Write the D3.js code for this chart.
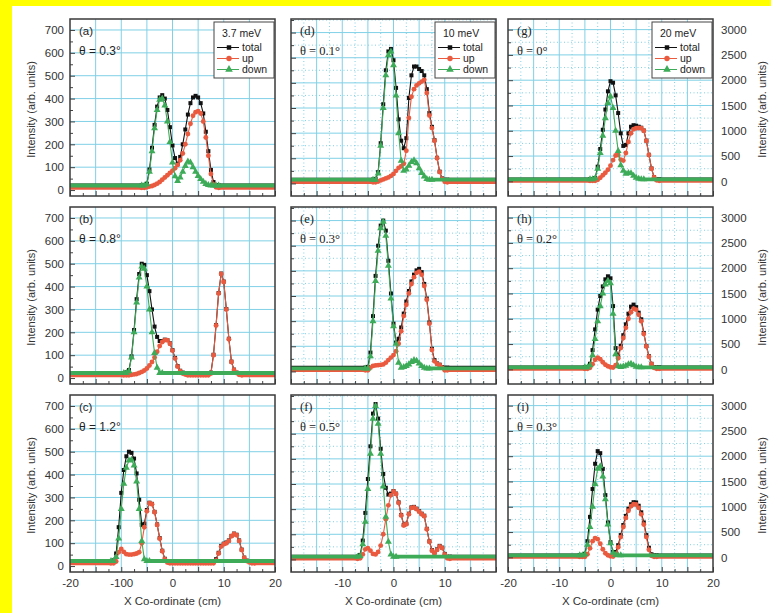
<!DOCTYPE html>
<html>
<head>
<meta charset="utf-8">
<script src="https://cdn.jsdelivr.net/npm/d3@7"></script>
<style>
body { margin: 0; background: #fff; }
svg { display: block; }
</style>
</head>
<body>
<div id="chart"></div>
<script>
// panel labels and axis text
var panelIds = ["a", "b", "c", "d", "e", "f", "g", "h", "i"];
var thetaLabels = ["θ = 0.3°", "θ = 0.8°", "θ = 1.2°", "θ = 0.1°", "θ = 0.3°", "θ = 0.5°", "θ = 0°", "θ = 0.2°", "θ = 0.3°"];
var energyLabels = ["3.7 meV", "10 meV", "20 meV"];
var seriesNames = ["total", "up", "down"];
var xTickValues = [[-20, -10, 0, 10, 20], [-10, 0, 10], [-20, -10, 0, 10, 20]];
var xTickLabels = [["-20", "-100", "0", "10", "20"], ["-10", "0", "10"], ["-20", "-10", "0", "10", "20"]];
var yTicksLeft = [0, 100, 200, 300, 400, 500, 600, 700];
var yTicksMid = [0, 100, 200, 300, 400, 500, 600];
var yTicksRight = [0, 500, 1000, 1500, 2000, 2500, 3000];

// series are sampled every 0.5 cm, starting at the x given in *_start (total, up, down)
var xStep = 0.5;

var a_start = [-6, -6, -6];
var a_total = [20,20,28,90,185,285,365,405,415,400,350,275,195,140,115,145,200,265,330,380,405,412,405,380,335,255,170,88,35,22,20];
var a_up = [10,10,12,15,18,22,28,35,45,55,65,75,85,95,110,130,160,200,245,290,325,340,345,335,300,230,150,70,25,12,10];
var a_down = [20,20,25,80,170,270,350,395,400,370,300,210,120,60,40,55,80,105,125,120,100,80,62,48,36,27,22,20,20,20,20];

var b_start = [-9.5, -9.5, -9.5];
var b_total = [22,25,35,95,210,345,455,500,495,450,380,300,225,180,162,162,168,166,152,122,88,52,32,24,22,22,22,22,22,22,22,22,22,22,24,102,232,372,457,422,302,172,72,37,24,22,22];
var b_up = [12,12,12,14,16,18,22,27,33,42,55,70,90,115,140,158,166,165,150,120,85,50,30,20,15,12,12,12,12,12,12,12,12,12,20,100,230,370,455,420,300,170,70,35,22,14,12];
var b_down = [22,22,30,90,200,330,440,488,478,400,300,200,110,45,22,22];

var c_start = [-12, -12, -12];
var c_total = [22,25,55,170,320,420,480,500,495,470,405,290,180,185,245,277,272,237,182,122,67,32,22,22,22,22,22,22,22,22,22,22,22,22,22,22,22,22,22,22,22,30,58,88,98,103,112,132,142,137,112,72,37,24,22,22,22];
var c_up = [12,12,20,60,75,62,52,50,50,52,55,60,100,170,240,275,270,235,180,120,65,30,15,12,12,12,12,12,12,12,12,12,12,12,12,12,12,12,12,12,12,25,55,85,95,100,110,130,140,135,110,70,35,22,16,12,12];
var c_down = [22,22,40,120,250,360,430,462,465,440,370,250,110,30,22,22];

var d_start = [-4, -4, -4];
var d_total = [15,18,45,160,315,450,525,535,490,380,255,170,140,180,340,430,465,465,455,447,430,375,280,225,172,102,47,20,15,15];
var d_up = [5,5,8,12,16,20,24,30,38,50,62,68,78,130,260,345,375,390,398,405,412,360,270,220,170,100,45,18,7,5];
var d_down = [15,15,40,150,300,430,510,525,470,350,200,90,50,55,70,85,92,80,60,42,28,18,15,15];

var e_start = [-5.5, -5.5, -5.5];
var e_total = [15,18,75,220,380,500,580,600,560,440,310,190,115,130,175,230,278,320,358,385,402,408,395,348,290,195,90,45,32,27,17,15,15];
var e_up = [5,5,15,22,24,25,26,28,35,45,55,65,80,110,160,220,265,310,348,375,392,397,385,340,285,190,85,40,30,25,15,5,5];
var e_down = [12,12,60,200,360,480,570,595,540,420,290,180,110,35,15,18,22,28,38,45,42,32,22,15,12,12];

var f_start = [-7, -7, -7];
var f_total = [11,18,75,185,320,450,580,618,560,440,340,285,258,262,272,262,227,177,137,142,182,207,209,202,192,182,174,122,72,37,27,40,54,47,22,11,11];
var f_up = [3,5,20,40,45,35,22,20,30,55,100,160,215,255,270,260,225,175,135,140,180,205,207,200,190,180,172,120,70,35,25,38,52,45,20,5,3];
var f_down = [11,14,60,150,280,420,560,610,540,420,290,170,70,20,11,11];

var g_start = [-4, -4, -4];
var g_total = [40,40,65,290,640,1020,1420,1780,1980,1950,1700,1350,950,700,720,950,1080,1110,1100,1080,1060,1005,805,525,255,85,40,40];
var g_up = [10,10,10,30,70,120,170,230,310,420,510,520,430,410,560,780,950,1030,1050,1055,1050,1000,800,520,250,80,20,10];
var g_down = [40,40,60,250,560,900,1250,1550,1680,1450,1000,600,320,210,150,165,160,110,70,50,40,40];

var h_start = [-5, -5, -5];
var h_total = [40,42,110,380,790,1180,1450,1640,1780,1840,1800,1250,420,270,465,675,890,1100,1240,1280,1230,1120,990,720,460,260,110,45,40,40];
var h_up = [10,10,30,100,190,230,200,140,90,60,40,35,80,220,420,620,820,1000,1130,1200,1180,1080,950,700,450,250,100,30,10,10];
var h_down = [40,40,80,280,600,950,1250,1500,1680,1750,1700,1100,300,60,45,55,70,100,110,80,50,40,40];

var i_start = [-6, -6, -6];
var i_total = [40,40,70,320,800,1350,1850,2100,2060,1750,1230,690,300,105,105,240,440,640,820,960,1050,1090,1085,1020,890,690,440,190,60,40,40];
var i_up = [10,10,10,60,180,320,380,360,270,160,80,40,20,15,60,200,400,600,780,920,1010,1050,1045,980,850,650,400,150,30,10,10];
var i_down = [40,40,60,250,600,1000,1450,1750,1800,1600,1150,650,280,90,45,40,40];

var panelStarts = [a_start, b_start, c_start, d_start, e_start, f_start, g_start, h_start, i_start];
var panelSeries = [
  [a_total, a_up, a_down], [b_total, b_up, b_down], [c_total, c_up, c_down],
  [d_total, d_up, d_down], [e_total, e_up, e_down], [f_total, f_up, f_down],
  [g_total, g_up, g_down], [h_total, h_up, h_down], [i_total, i_up, i_down]
];

// layout
var width = 771, height = 613;
var colLeft = [70, 291, 508], colW = 205;
var rowTop = [19, 207, 395], rowH = 177;
var yDomains = [[-26, 748], [-50, 654], [-290, 3210]];
var yTickSets = [yTicksLeft, yTicksMid, yTicksRight];
var colors = ["#111111", "#ea5a3f", "#3dab58"];
var symbols = [d3.symbolSquare, d3.symbolCircle, d3.symbolTriangle];
var symbolSizes = [16, 19, 21];
var gridColor = "#80d0e6";
var sansFont = "'Liberation Sans', Arial, Helvetica, sans-serif";
var serifFont = "'Liberation Serif', 'Times New Roman', serif";

var svg = d3.select("#chart")
  .append("svg")
  .attr("width", width)
  .attr("height", height);

svg.append("rect").attr("width", width).attr("height", height).attr("fill", "#ffff00");
svg.append("rect").attr("x", 12).attr("y", 6).attr("width", width - 12).attr("height", height - 6).attr("fill", "#ffffff");

var x = d3.scaleLinear().domain([-20, 20]).range([0, colW]);

function styleAxis(sel) {
  sel.select(".domain").remove();
  sel.attr("font-family", sansFont).attr("font-size", 11.5);
  sel.selectAll("line").attr("stroke", "#444");
  sel.selectAll("text").attr("fill", "#333");
}

panelIds.forEach(function(id, p) {
  var col = Math.floor(p / 3), row = p % 3;
  var yTicks = yTickSets[col];
  var yStep = yTicks[1] - yTicks[0];
  var y = d3.scaleLinear().domain(yDomains[col]).range([rowH, 0]);

  var g = svg.append("g")
    .attr("transform", "translate(" + colLeft[col] + "," + rowTop[row] + ")");

  g.append("clipPath").attr("id", "clip-" + id)
    .append("rect").attr("width", colW).attr("height", rowH);

  // grid
  var grid = g.append("g");
  grid.selectAll(".gx").data(d3.range(-15, 16, 5)).enter().append("line")
    .attr("x1", function(d) { return x(d); }).attr("x2", function(d) { return x(d); })
    .attr("y1", 0).attr("y2", rowH)
    .attr("stroke", gridColor).attr("stroke-width", 1);
  grid.selectAll(".gy").data(yTicks.slice(1)).enter().append("line")
    .attr("x1", 0).attr("x2", colW)
    .attr("y1", function(d) { return y(d); }).attr("y2", function(d) { return y(d); })
    .attr("stroke", gridColor).attr("stroke-width", 1);
  if (col > 0) {
    grid.selectAll(".mx").data(d3.range(-17.5, 18, 5)).enter().append("line")
      .attr("x1", function(d) { return x(d); }).attr("x2", function(d) { return x(d); })
      .attr("y1", 0).attr("y2", rowH)
      .attr("stroke", gridColor).attr("stroke-width", 1).attr("stroke-dasharray", "1,2.5");
    var minorY = d3.range(yStep / 2, yDomains[col][1], yStep);
    grid.selectAll(".my").data(minorY).enter().append("line")
      .attr("x1", 0).attr("x2", colW)
      .attr("y1", function(d) { return y(d); }).attr("y2", function(d) { return y(d); })
      .attr("stroke", gridColor).attr("stroke-width", 1).attr("stroke-dasharray", "1,2.5");
  }

  // data
  var plot = g.append("g").attr("clip-path", "url(#clip-" + id + ")");
  panelSeries[p].forEach(function(vals, s) {
    var x0 = panelStarts[p][s];
    var pts = vals.map(function(v, k) { return [x0 + k * xStep, v]; });
    var first = pts[0], last = pts[pts.length - 1];

    // flat background level to the panel edges
    plot.append("line")
      .attr("x1", x(-20)).attr("x2", x(first[0]))
      .attr("y1", y(first[1])).attr("y2", y(first[1]))
      .attr("stroke", colors[s]).attr("stroke-width", 3.8);
    plot.append("line")
      .attr("x1", x(last[0])).attr("x2", x(20))
      .attr("y1", y(last[1])).attr("y2", y(last[1]))
      .attr("stroke", colors[s]).attr("stroke-width", 3.8);

    plot.append("path")
      .datum(pts)
      .attr("fill", "none")
      .attr("stroke", colors[s])
      .attr("stroke-width", 1.1)
      .attr("d", d3.line().x(function(d) { return x(d[0]); }).y(function(d) { return y(d[1]); }));

    plot.selectAll(".m" + s).data(pts).enter().append("path")
      .attr("transform", function(d) { return "translate(" + x(d[0]) + "," + y(d[1]) + ")"; })
      .attr("d", d3.symbol().type(symbols[s]).size(symbolSizes[s]))
      .attr("fill", colors[s]);
  });

  // ticks (inward)
  g.append("g").call(d3.axisLeft(y).tickValues(yTicks).tickSize(-5).tickFormat("")).call(styleAxis);
  g.append("g").call(d3.axisLeft(y).tickValues(d3.range(yStep / 2, yDomains[col][1], yStep)).tickSize(-3).tickFormat("")).call(styleAxis);
  g.append("g").attr("transform", "translate(0," + rowH + ")")
    .call(d3.axisBottom(x).tickValues(d3.range(-20, 21, 5)).tickSize(-5).tickFormat("")).call(styleAxis);
  g.append("g").attr("transform", "translate(0," + rowH + ")")
    .call(d3.axisBottom(x).tickValues(d3.range(-17.5, 18, 5)).tickSize(-3).tickFormat("")).call(styleAxis);

  // tick labels
  if (col === 0) {
    g.append("g").call(d3.axisLeft(y).tickValues(yTicks).tickSize(0).tickPadding(6).tickFormat(d3.format("d"))).call(styleAxis);
  }
  if (col === 2) {
    g.append("g").attr("transform", "translate(" + colW + ",0)")
      .call(d3.axisRight(y).tickValues(yTicks).tickSize(0).tickPadding(8).tickFormat(d3.format("d"))).call(styleAxis);
  }
  if (row === 2) {
    g.append("g").attr("transform", "translate(0," + rowH + ")")
      .call(d3.axisBottom(x).tickValues(xTickValues[col]).tickSize(0).tickPadding(7)
        .tickFormat(function(d, k) { return xTickLabels[col][k]; }))
      .call(styleAxis);
  }

  // frame
  g.append("rect")
    .attr("width", colW).attr("height", rowH)
    .attr("fill", "none").attr("stroke", "#3a3a3a").attr("stroke-width", 1.5);

  // panel letter and angle
  var labelFont = col === 0 ? sansFont : serifFont;
  g.append("text").attr("x", 9).attr("y", 16)
    .attr("font-family", labelFont).attr("font-size", col === 0 ? 11.5 : 12.5).attr("fill", "#222")
    .text("(" + id + ")");
  g.append("text").attr("x", 9).attr("y", 36)
    .attr("font-family", labelFont).attr("font-size", col === 0 ? 12 : 12.5).attr("fill", "#222")
    .text(thetaLabels[p]);

  // legend
  if (row === 0) {
    var lg = g.append("g").attr("transform", "translate(" + 144 + "," + 3 + ")");
    lg.append("rect").attr("width", 60).attr("height", 56)
      .attr("fill", "#fff").attr("stroke", "#444").attr("stroke-width", 1);
    lg.append("text").attr("x", 8).attr("y", 15)
      .attr("font-family", sansFont).attr("font-size", 10.5).attr("fill", "#222")
      .text(energyLabels[col]);
    seriesNames.forEach(function(name, s) {
      var ly = 25.5 + s * 11;
      lg.append("line").attr("x1", 3).attr("x2", 25).attr("y1", ly).attr("y2", ly)
        .attr("stroke", colors[s]).attr("stroke-width", 1);
      lg.append("path").attr("transform", "translate(15," + ly + ")")
        .attr("d", d3.symbol().type(symbols[s]).size(symbolSizes[s] + 4))
        .attr("fill", colors[s]);
      lg.append("text").attr("x", 28).attr("y", ly + 3.8)
        .attr("font-family", sansFont).attr("font-size", 10.5).attr("fill", "#222")
        .text(name);
    });
  }
});

// axis titles
rowTop.forEach(function(t) {
  svg.append("text")
    .attr("transform", "translate(35," + (t + rowH / 2 + 2) + ") rotate(-90)")
    .attr("text-anchor", "middle")
    .attr("font-family", sansFont).attr("font-size", 11).attr("fill", "#333")
    .text("Intensity (arb. units)");
  svg.append("text")
    .attr("transform", "translate(766," + (t + rowH / 2 + 2) + ") rotate(-90)")
    .attr("text-anchor", "middle")
    .attr("font-family", sansFont).attr("font-size", 11).attr("fill", "#333")
    .text("Intensity (arb. units)");
});
colLeft.forEach(function(l) {
  svg.append("text")
    .attr("x", l + colW / 2).attr("y", 605)
    .attr("text-anchor", "middle")
    .attr("font-family", sansFont).attr("font-size", 11.5).attr("fill", "#333")
    .text("X Co-ordinate (cm)");
});
</script>
</body>
</html>
